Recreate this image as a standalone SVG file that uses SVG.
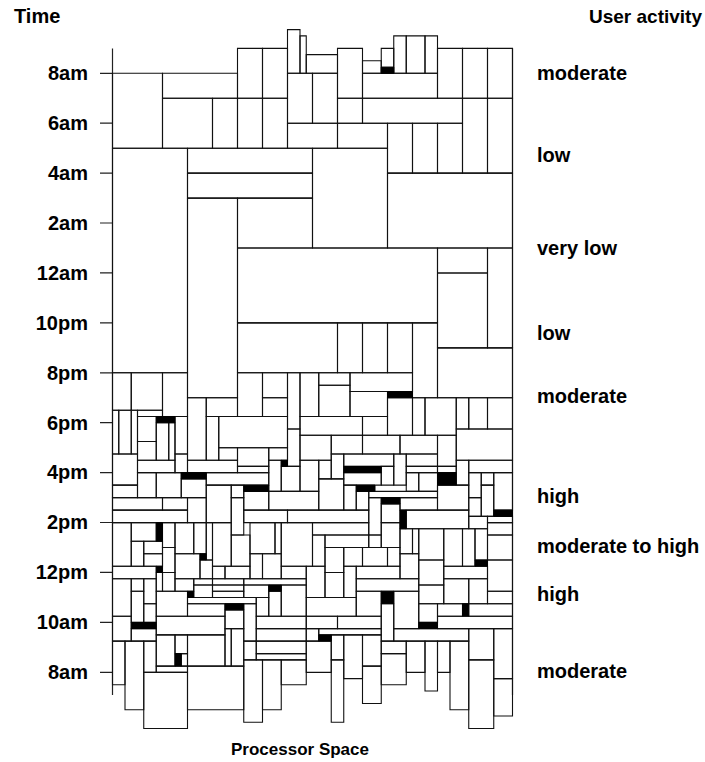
<svg xmlns="http://www.w3.org/2000/svg" width="705" height="762" viewBox="0 0 705 762">
<style>
.b{fill:none;stroke:#111;stroke-width:1.1;vector-effect:non-scaling-stroke}
.k{fill:#000;stroke:#000;stroke-width:1;vector-effect:non-scaling-stroke}
.ax{stroke:#222;stroke-width:1.2;fill:none}
text{font-family:"Liberation Sans",Arial,sans-serif;font-weight:bold;font-size:20px;fill:#000}
.tl{text-anchor:end}
.ua{font-size:19px}
.ps{font-size:17px;text-anchor:middle}
</style>
<rect width="705" height="762" fill="#fff"/>
<g id="axes">
<line class="ax" x1="112.5" y1="48.5" x2="112.5" y2="695"/>
<line class="ax" x1="512.5" y1="48.5" x2="512.5" y2="695"/>
<path class="ax" d="M100 73.3H112.5M100 123.2H112.5M100 173.1H112.5M100 223H112.5M100 272.9H112.5M100 322.9H112.5M100 372.8H112.5M100 422.7H112.5M100 472.6H112.5M100 522.5H112.5M100 572.4H112.5M100 622.3H112.5M100 672.3H112.5"/>
</g>
<g id="jobs" transform="translate(112.5 73.3) scale(6.25 6.24)">
<rect class="b" x="0" y="0" width="8" height="12"/>
<rect class="b" x="8" y="0" width="12" height="4"/>
<rect class="b" x="8" y="4" width="8" height="8"/>
<rect class="b" x="16" y="4" width="4" height="8"/>
<rect class="b" x="20" y="-4" width="4" height="8"/>
<rect class="b" x="24" y="-4" width="4" height="8"/>
<rect class="b" x="20" y="4" width="4" height="8"/>
<rect class="b" x="24" y="4" width="4" height="8"/>
<rect class="b" x="28" y="-7" width="2" height="7"/>
<rect class="b" x="30" y="-6" width="1" height="6"/>
<rect class="b" x="31" y="-3" width="5" height="3"/>
<rect class="b" x="28" y="0" width="4" height="8"/>
<rect class="b" x="32" y="0" width="4" height="8"/>
<rect class="b" x="28" y="8" width="8" height="4"/>
<rect class="b" x="36" y="8" width="8" height="4"/>
<rect class="b" x="36" y="-4" width="4" height="8"/>
<rect class="b" x="40" y="-2" width="3" height="2"/>
<rect class="b" x="43" y="-4" width="2" height="4"/>
<rect class="b" x="45" y="-6" width="2" height="6"/>
<rect class="b" x="47" y="-6" width="3" height="6"/>
<rect class="b" x="50" y="-6" width="2" height="6"/>
<rect class="b" x="40" y="0" width="12" height="4"/>
<rect class="b" x="52" y="-4" width="4" height="8"/>
<rect class="b" x="56" y="-4" width="4" height="8"/>
<rect class="b" x="60" y="-4" width="4" height="8"/>
<rect class="b" x="36" y="4" width="4" height="4"/>
<rect class="b" x="40" y="4" width="16" height="4"/>
<rect class="b" x="56" y="4" width="4" height="12"/>
<rect class="b" x="60" y="4" width="4" height="12"/>
<rect class="b" x="44" y="8" width="4" height="8"/>
<rect class="b" x="48" y="8" width="4" height="8"/>
<rect class="b" x="52" y="8" width="4" height="8"/>
<rect class="b" x="32" y="12" width="12" height="16"/>
<rect class="b" x="12" y="12" width="20" height="4"/>
<rect class="b" x="12" y="16" width="20" height="4"/>
<rect class="b" x="44" y="16" width="20" height="12"/>
<rect class="b" x="0" y="12" width="12" height="36"/>
<rect class="b" x="12" y="20" width="8" height="32"/>
<rect class="b" x="20" y="20" width="12" height="8"/>
<rect class="b" x="20" y="28" width="32" height="12"/>
<rect class="b" x="52" y="28" width="8" height="4"/>
<rect class="b" x="52" y="32" width="8" height="12"/>
<rect class="b" x="60" y="28" width="4" height="16"/>
<rect class="b" x="52" y="44" width="12" height="8"/>
<rect class="b" x="20" y="40" width="16" height="8"/>
<rect class="b" x="36" y="40" width="4" height="8"/>
<rect class="b" x="40" y="40" width="4" height="8"/>
<rect class="b" x="44" y="40" width="4" height="8"/>
<rect class="b" x="48" y="40" width="4" height="12"/>
<rect class="b" x="0" y="48" width="3" height="6"/>
<rect class="b" x="3" y="48" width="5" height="6"/>
<rect class="b" x="8" y="48" width="4" height="7"/>
<rect class="b" x="0" y="54" width="1" height="7"/>
<rect class="b" x="1" y="54" width="2" height="7"/>
<rect class="b" x="3" y="54" width="1" height="7"/>
<rect class="b" x="4" y="54" width="4" height="1"/>
<rect class="b" x="4" y="55" width="3" height="4"/>
<rect class="b" x="4" y="59" width="3" height="3"/>
<rect class="b" x="7" y="56" width="2" height="6"/>
<rect class="b" x="9" y="56" width="1" height="6"/>
<rect class="b" x="10" y="55" width="2" height="6"/>
<rect class="b" x="0" y="61" width="4" height="5"/>
<rect class="b" x="4" y="62" width="6" height="2"/>
<rect class="b" x="10" y="61" width="2" height="3"/>
<rect class="b" x="0" y="66" width="4" height="2"/>
<rect class="b" x="4" y="64" width="3" height="4"/>
<rect class="b" x="7" y="64" width="4" height="4"/>
<rect class="b" x="11" y="65" width="4" height="3"/>
<rect class="b" x="12" y="52" width="3" height="10"/>
<rect class="b" x="15" y="52" width="5" height="3"/>
<rect class="b" x="15" y="55" width="2" height="7"/>
<rect class="b" x="17" y="55" width="11" height="5"/>
<rect class="b" x="17" y="60" width="3" height="2"/>
<rect class="b" x="12" y="62" width="8" height="2"/>
<rect class="b" x="15" y="64" width="10" height="2"/>
<rect class="b" x="15" y="66" width="4" height="6"/>
<rect class="b" x="19" y="66" width="2" height="2"/>
<rect class="b" x="20" y="48" width="4" height="7"/>
<rect class="b" x="24" y="48" width="4" height="4"/>
<rect class="b" x="24" y="52" width="4" height="3"/>
<rect class="b" x="28" y="48" width="2" height="9"/>
<rect class="b" x="30" y="48" width="3" height="7"/>
<rect class="b" x="30" y="55" width="10" height="3"/>
<rect class="b" x="28" y="57" width="2" height="6"/>
<rect class="b" x="30" y="58" width="5" height="4"/>
<rect class="b" x="20" y="60" width="5" height="3"/>
<rect class="b" x="25" y="60" width="3" height="2"/>
<rect class="b" x="25" y="62" width="2" height="5"/>
<rect class="b" x="27" y="63" width="3" height="4"/>
<rect class="b" x="30" y="62" width="3" height="5"/>
<rect class="b" x="20" y="63" width="5" height="1"/>
<rect class="b" x="33" y="48" width="5" height="2"/>
<rect class="b" x="38" y="48" width="10" height="3"/>
<rect class="b" x="33" y="50" width="5" height="5"/>
<rect class="b" x="38" y="51" width="6" height="4"/>
<rect class="b" x="44" y="52" width="4" height="6"/>
<rect class="b" x="48" y="52" width="2" height="6"/>
<rect class="b" x="50" y="52" width="5" height="6"/>
<rect class="b" x="55" y="52" width="2" height="5"/>
<rect class="b" x="57" y="52" width="3" height="5"/>
<rect class="b" x="60" y="52" width="4" height="5"/>
<rect class="b" x="55" y="57" width="9" height="5"/>
<rect class="b" x="40" y="55" width="4" height="3"/>
<rect class="b" x="35" y="58" width="5" height="3"/>
<rect class="b" x="40" y="58" width="6" height="3"/>
<rect class="b" x="46" y="58" width="6" height="3"/>
<rect class="b" x="52" y="58" width="3" height="5"/>
<rect class="b" x="35" y="61" width="2" height="4"/>
<rect class="b" x="33" y="62" width="2" height="3"/>
<rect class="b" x="37" y="61" width="8" height="2"/>
<rect class="b" x="43" y="63" width="2" height="3"/>
<rect class="b" x="45" y="61" width="2" height="5"/>
<rect class="b" x="47" y="61" width="5" height="2"/>
<rect class="b" x="47" y="63" width="5" height="1"/>
<rect class="b" x="52" y="63" width="3" height="1"/>
<rect class="b" x="37" y="64" width="6" height="2"/>
<rect class="b" x="47" y="64" width="2" height="3"/>
<rect class="b" x="49" y="64" width="3" height="3"/>
<rect class="b" x="55" y="62" width="2" height="4"/>
<rect class="b" x="57" y="62" width="7" height="2"/>
<rect class="b" x="57" y="64" width="2" height="4"/>
<rect class="b" x="59" y="64" width="2" height="2"/>
<rect class="b" x="61" y="64" width="3" height="6"/>
<rect class="b" x="33" y="65" width="4" height="5"/>
<rect class="b" x="37" y="66" width="2" height="4"/>
<rect class="b" x="41" y="67" width="11" height="1"/>
<rect class="b" x="39" y="67" width="2" height="3"/>
<rect class="b" x="52" y="66" width="5" height="4"/>
<rect class="b" x="57" y="68" width="2" height="3"/>
<rect class="b" x="59" y="66" width="2" height="5"/>
<rect class="b" x="28" y="70" width="13" height="2"/>
<rect class="b" x="41" y="68" width="2" height="6"/>
<rect class="b" x="43" y="69" width="3" height="3"/>
<rect class="b" x="46" y="68" width="6" height="2"/>
<rect class="b" x="47" y="70" width="10" height="3"/>
<rect class="b" x="57" y="71" width="3" height="2"/>
<rect class="b" x="60" y="71" width="4" height="1"/>
<rect class="b" x="60" y="72" width="4" height="2"/>
<rect class="b" x="32" y="72" width="9" height="2"/>
<rect class="b" x="32" y="74" width="2" height="5"/>
<rect class="b" x="34" y="74" width="7" height="2"/>
<rect class="b" x="41" y="74" width="2" height="2"/>
<rect class="b" x="43" y="72" width="3" height="4"/>
<rect class="b" x="46" y="73" width="2" height="4"/>
<rect class="b" x="48" y="73" width="1" height="4"/>
<rect class="b" x="49" y="73" width="4" height="5"/>
<rect class="b" x="53" y="73" width="3" height="6"/>
<rect class="b" x="56" y="73" width="2" height="6"/>
<rect class="b" x="58" y="73" width="2" height="5"/>
<rect class="b" x="60" y="74" width="4" height="4"/>
<rect class="b" x="60" y="78" width="4" height="5"/>
<rect class="b" x="34" y="76" width="3" height="4"/>
<rect class="b" x="37" y="76" width="3" height="3"/>
<rect class="b" x="40" y="76" width="4" height="3"/>
<rect class="b" x="44" y="76" width="2" height="3"/>
<rect class="b" x="46" y="77" width="3" height="4"/>
<rect class="b" x="49" y="78" width="4" height="4"/>
<rect class="b" x="53" y="79" width="7" height="2"/>
<rect class="b" x="31" y="79" width="3" height="5"/>
<rect class="b" x="34" y="80" width="3" height="4"/>
<rect class="b" x="37" y="79" width="2" height="5"/>
<rect class="b" x="39" y="79" width="7" height="2"/>
<rect class="b" x="39" y="81" width="10" height="2"/>
<rect class="b" x="53" y="81" width="4" height="4"/>
<rect class="b" x="57" y="81" width="3" height="4"/>
<rect class="b" x="60" y="83" width="4" height="2"/>
<rect class="b" x="49" y="82" width="4" height="3"/>
<rect class="b" x="39" y="83" width="4" height="4"/>
<rect class="b" x="43" y="85" width="2" height="6"/>
<rect class="b" x="45" y="83" width="4" height="6"/>
<rect class="b" x="31" y="84" width="8" height="3"/>
<rect class="b" x="49" y="85" width="3" height="3"/>
<rect class="b" x="52" y="85" width="4" height="2"/>
<rect class="b" x="57" y="85" width="7" height="2"/>
<rect class="b" x="31" y="87" width="5" height="2"/>
<rect class="b" x="36" y="87" width="7" height="2"/>
<rect class="b" x="52" y="87" width="12" height="2"/>
<rect class="b" x="31" y="89" width="2" height="2"/>
<rect class="b" x="33" y="89" width="10" height="1"/>
<rect class="b" x="45" y="89" width="12" height="2"/>
<rect class="b" x="57" y="89" width="4" height="5"/>
<rect class="b" x="61" y="89" width="3" height="8"/>
<rect class="b" x="31" y="91" width="4" height="5"/>
<rect class="b" x="35" y="90" width="2" height="4"/>
<rect class="b" x="35" y="94" width="2" height="10"/>
<rect class="b" x="37" y="90" width="3" height="7"/>
<rect class="b" x="40" y="90" width="3" height="5"/>
<rect class="b" x="40" y="95" width="3" height="6"/>
<rect class="b" x="43" y="91" width="4" height="2"/>
<rect class="b" x="43" y="93" width="4" height="5"/>
<rect class="b" x="47" y="91" width="3" height="5"/>
<rect class="b" x="50" y="91" width="2" height="8"/>
<rect class="b" x="52" y="91" width="2" height="5"/>
<rect class="b" x="54" y="91" width="3" height="11"/>
<rect class="b" x="57" y="94" width="4" height="11"/>
<rect class="b" x="61" y="97" width="3" height="6"/>
<rect class="b" x="0" y="68" width="8" height="2"/>
<rect class="b" x="8" y="68" width="4" height="2"/>
<rect class="b" x="12" y="68" width="3" height="4"/>
<rect class="b" x="0" y="70" width="12" height="2"/>
<rect class="b" x="19" y="68" width="2" height="6"/>
<rect class="b" x="21" y="67" width="4" height="3"/>
<rect class="b" x="25" y="67" width="8" height="3"/>
<rect class="b" x="21" y="70" width="7" height="2"/>
<rect class="b" x="0" y="72" width="3" height="7"/>
<rect class="b" x="3" y="72" width="4" height="3"/>
<rect class="b" x="8" y="72" width="2" height="4"/>
<rect class="b" x="10" y="72" width="3" height="5"/>
<rect class="b" x="13" y="72" width="2" height="5"/>
<rect class="b" x="15" y="72" width="1" height="6"/>
<rect class="b" x="10" y="77" width="4" height="4"/>
<rect class="b" x="14" y="78" width="2" height="3"/>
<rect class="b" x="16" y="72" width="3" height="7"/>
<rect class="b" x="19" y="74" width="3" height="5"/>
<rect class="b" x="3" y="75" width="2" height="4"/>
<rect class="b" x="5" y="75" width="3" height="2"/>
<rect class="b" x="5" y="77" width="3" height="2"/>
<rect class="b" x="8" y="76" width="2" height="4"/>
<rect class="b" x="0" y="79" width="7" height="2"/>
<rect class="b" x="7" y="80" width="1" height="3"/>
<rect class="b" x="8" y="80" width="2" height="3"/>
<rect class="b" x="10" y="81" width="3" height="2"/>
<rect class="b" x="13" y="81" width="3" height="1"/>
<rect class="b" x="13" y="82" width="3" height="2"/>
<rect class="b" x="16" y="79" width="2" height="2"/>
<rect class="b" x="18" y="79" width="4" height="2"/>
<rect class="b" x="22" y="72" width="4" height="5"/>
<rect class="b" x="26" y="72" width="1" height="5"/>
<rect class="b" x="27" y="72" width="5" height="7"/>
<rect class="b" x="22" y="77" width="2" height="4"/>
<rect class="b" x="24" y="77" width="3" height="4"/>
<rect class="b" x="27" y="79" width="4" height="2"/>
<rect class="b" x="16" y="81" width="5" height="1"/>
<rect class="b" x="16" y="82" width="5" height="1"/>
<rect class="b" x="16" y="83" width="5" height="1"/>
<rect class="b" x="21" y="81" width="10" height="1"/>
<rect class="b" x="21" y="82" width="4" height="2"/>
<rect class="b" x="25" y="83" width="2" height="4"/>
<rect class="b" x="27" y="82" width="4" height="5"/>
<rect class="b" x="0" y="81" width="3" height="6"/>
<rect class="b" x="3" y="81" width="2" height="2"/>
<rect class="b" x="3" y="83" width="2" height="5"/>
<rect class="b" x="5" y="81" width="2" height="4"/>
<rect class="b" x="5" y="85" width="2" height="3"/>
<rect class="b" x="7" y="83" width="5" height="4"/>
<rect class="b" x="12" y="84" width="11" height="1"/>
<rect class="b" x="12" y="85" width="6" height="2"/>
<rect class="b" x="23" y="84" width="2" height="3"/>
<rect class="b" x="0" y="87" width="3" height="4"/>
<rect class="b" x="3" y="89" width="4" height="2"/>
<rect class="b" x="7" y="87" width="11" height="3"/>
<rect class="b" x="18" y="86" width="3" height="3"/>
<rect class="b" x="21" y="85" width="2" height="6"/>
<rect class="b" x="23" y="87" width="8" height="2"/>
<rect class="b" x="23" y="89" width="8" height="2"/>
<rect class="b" x="0" y="91" width="2" height="7"/>
<rect class="b" x="2" y="91" width="3" height="11"/>
<rect class="b" x="5" y="91" width="2" height="5"/>
<rect class="b" x="7" y="90" width="3" height="5"/>
<rect class="b" x="10" y="90" width="2" height="3"/>
<rect class="b" x="11" y="93" width="1" height="2"/>
<rect class="b" x="7" y="95" width="5" height="1"/>
<rect class="b" x="5" y="96" width="7" height="9"/>
<rect class="b" x="12" y="90" width="6" height="5"/>
<rect class="b" x="18" y="89" width="1" height="6"/>
<rect class="b" x="19" y="89" width="2" height="6"/>
<rect class="b" x="12" y="95" width="9" height="7"/>
<rect class="b" x="21" y="91" width="2" height="3"/>
<rect class="b" x="23" y="91" width="8" height="2"/>
<rect class="b" x="23" y="93" width="8" height="1"/>
<rect class="b" x="21" y="94" width="3" height="10"/>
<rect class="b" x="24" y="94" width="3" height="8"/>
<rect class="b" x="27" y="94" width="4" height="4"/>
<rect class="k" x="43" y="-1" width="2" height="1"/>
<rect class="k" x="7" y="55" width="3" height="1"/>
<rect class="k" x="11" y="64" width="4" height="1"/>
<rect class="k" x="21" y="66" width="4" height="1"/>
<rect class="k" x="27" y="62" width="1" height="1"/>
<rect class="k" x="44" y="51" width="4" height="1"/>
<rect class="k" x="37" y="63" width="6" height="1"/>
<rect class="k" x="52" y="64" width="3" height="2"/>
<rect class="k" x="39" y="66" width="3" height="1"/>
<rect class="k" x="61" y="70" width="3" height="1"/>
<rect class="k" x="43" y="68" width="3" height="1"/>
<rect class="k" x="46" y="70" width="1" height="3"/>
<rect class="k" x="58" y="78" width="2" height="1"/>
<rect class="k" x="43" y="83" width="2" height="2"/>
<rect class="k" x="49" y="88" width="3" height="1"/>
<rect class="k" x="56" y="85" width="1" height="2"/>
<rect class="k" x="33" y="90" width="2" height="1"/>
<rect class="k" x="7" y="72" width="1" height="3"/>
<rect class="k" x="14" y="77" width="1" height="1"/>
<rect class="k" x="7" y="79" width="1" height="1"/>
<rect class="k" x="12" y="83" width="1" height="1"/>
<rect class="k" x="25" y="82" width="2" height="1"/>
<rect class="k" x="18" y="85" width="3" height="1"/>
<rect class="k" x="3" y="88" width="4" height="1"/>
<rect class="k" x="10" y="93" width="1" height="2"/>
</g>
<g id="labels">
<text x="14" y="23">Time</text>
<text class="ua" x="589" y="23">User activity</text>
<text class="tl" x="88" y="80">8am</text>
<text class="tl" x="88" y="130">6am</text>
<text class="tl" x="88" y="180">4am</text>
<text class="tl" x="88" y="230">2am</text>
<text class="tl" x="88" y="280">12am</text>
<text class="tl" x="88" y="330">10pm</text>
<text class="tl" x="88" y="380">8pm</text>
<text class="tl" x="88" y="430">6pm</text>
<text class="tl" x="88" y="479">4pm</text>
<text class="tl" x="88" y="529">2pm</text>
<text class="tl" x="88" y="579">12pm</text>
<text class="tl" x="88" y="629">10am</text>
<text class="tl" x="88" y="679">8am</text>
<text x="537" y="80">moderate</text>
<text x="537" y="162">low</text>
<text x="537" y="255">very low</text>
<text x="537" y="340">low</text>
<text x="537" y="403">moderate</text>
<text x="537" y="503">high</text>
<text x="537" y="553">moderate to high</text>
<text x="537" y="601">high</text>
<text x="537" y="678">moderate</text>
<text class="ps" x="300" y="755">Processor Space</text>
</g>
</svg>
